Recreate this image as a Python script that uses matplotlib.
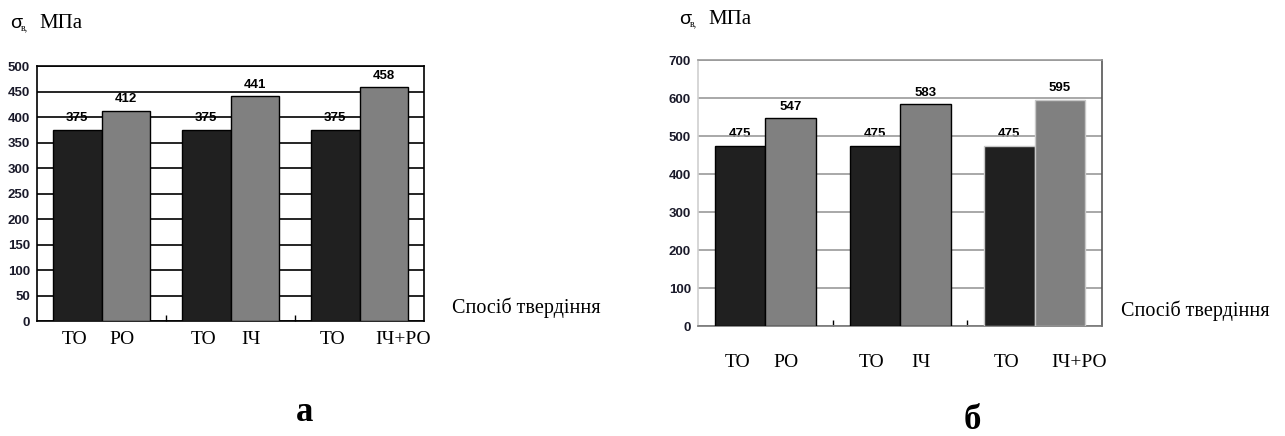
import matplotlib.pyplot as plt
import numpy as np

# data
groups = ["ТО/РО", "ТО/ІЧ", "ТО/ІЧ+РО"]
tick_labels = ["ТО", "РО", "ТО", "ІЧ", "ТО", "ІЧ+РО"]
to_a = [375, 375, 375]
treated_a = [412, 441, 458]
to_b = [475, 475, 475]
treated_b = [547, 583, 595]

SERIF = "Liberation Serif"
SANS = "Liberation Sans"
DARK = "#202020"
GREY = "#808080"

fig = plt.figure(figsize=(12.85, 4.36), dpi=100)


def draw_panel(rect, v1, v2, ymax, ystep, grid_col, spine_cols, last_edge,
               label_dy, letter, letter_xy, title_xy, xlabel_xy):
    ax = fig.add_axes(rect)
    x = np.arange(len(groups))
    w = 0.375
    edges = ["black", "black", last_edge]
    b1 = ax.bar(x - w / 2, v1, w, color=DARK, edgecolor=edges, linewidth=1.0, zorder=3)
    b2 = ax.bar(x + w / 2, v2, w, color=GREY, edgecolor=edges, linewidth=1.0, zorder=3)
    for bars in (b1, b2):
        ax.bar_label(bars, labels=[str(v) for v in bars.datavalues], padding=4,
                     fontsize=9.5, fontweight="bold", family=SANS, zorder=1)

    ax.set_xlim(-0.5, 2.5)
    ax.set_ylim(0, ymax)
    ax.set_yticks(np.arange(0, ymax + 1, ystep))
    ax.yaxis.grid(True, color=grid_col, linewidth=1.2, zorder=0)
    ax.tick_params(axis="y", length=0, pad=5, labelsize=9.5)
    for lab in ax.get_yticklabels():
        lab.set_fontweight("bold")
        lab.set_family(SANS)
        lab.set_color("#1a1a2a")

    ax.set_xticks([0.5, 1.5])
    ax.set_xticklabels([])
    ax.tick_params(axis="x", direction="in", length=4, width=1, color="black")
    for side, col in spine_cols.items():
        ax.spines[side].set_color(col)
        ax.spines[side].set_linewidth(1.2)

    # category labels under each bar
    centers = np.concatenate([[xi - w / 2, xi + w / 2] for xi in x])
    for cx, lab in zip(centers, tick_labels):
        dx = 14 if lab == "ІЧ+РО" else (-2 if lab == "ТО" else -3)
        ax.annotate(lab, (cx, 0), xycoords=("data", "axes fraction"),
                    xytext=(dx, label_dy), textcoords="offset points",
                    ha="center", va="center", fontsize=14, family=SERIF)

    fig.text(*xlabel_xy, "Спосіб твердіння", fontsize=14.5, family=SERIF,
             ha="left", va="center")
    fig.text(*title_xy, "σ", fontsize=14, family=SANS, ha="left", va="center")
    fig.text(title_xy[0] + 0.0082, title_xy[1] - 0.01, "в,", fontsize=7,
             family=SERIF, ha="left", va="center")
    fig.text(title_xy[0] + 0.0225, title_xy[1], "МПа", fontsize=15,
             family=SERIF, ha="left", va="center")
    fig.text(*letter_xy, letter, fontsize=25, fontweight="bold", family=SERIF,
             ha="center", va="center")
    return ax


draw_panel([37 / 1285, 115 / 436, 387 / 1285, 255 / 436], to_a, treated_a,
           500, 50, "black",
           {"left": "black", "right": "black", "top": "black", "bottom": "black"},
           "black", -13, "а", (305 / 1285, 1 - 412 / 436),
           (10 / 1285, 1 - 23 / 436), (452 / 1285, 1 - 308 / 436))

draw_panel([698 / 1285, 110 / 436, 404 / 1285, 266 / 436], to_b, treated_b,
           700, 100, "#9a9a9a",
           {"left": "#cfcfcf", "right": "#555555", "top": "#9a9a9a", "bottom": "#777777"},
           "#c8c8c8", -26, "б", (972 / 1285, 1 - 420 / 436),
           (679 / 1285, 1 - 19 / 436), (1121 / 1285, 1 - 311 / 436))

fig.savefig("out.png", dpi=100, facecolor="white")
